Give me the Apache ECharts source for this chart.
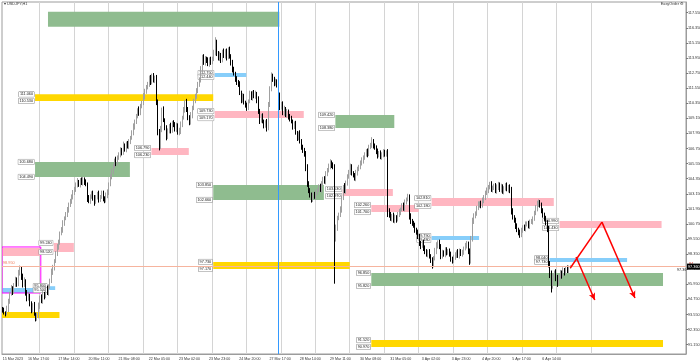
<!DOCTYPE html>
<html><head><meta charset="utf-8">
<script src="https://cdn.jsdelivr.net/npm/echarts@6/dist/echarts.min.js"></script>
<style>html,body{margin:0;padding:0;background:#fff}#c{width:700px;height:362px}</style>
</head><body><div id="c"></div>
<script>
// ---------------- DATA ----------------
const symbolName = 'USDJPY,H1';
const totalSlots = 476;          // bars shown on the time axis (incl. empty shift area)
const firstOpen = 94.0;
const closes = [
93.9,93.7,93.6,94.0,94.6,95.2,95.6,95.4,95.9,96.3,
96.0,96.8,97.2,96.6,95.9,96.2,95.3,94.8,95.1,94.4,
93.9,94.3,93.6,93.2,93.5,94.2,94.9,94.6,95.2,95.0,
95.6,95.3,95.8,96.2,96.9,97.3,97.8,98.4,98.9,99.3,
100.0,100.3,100.8,101.2,101.5,101.9,102.3,102.5,102.9,103.3,
103.5,103.8,104.1,103.9,104.2,104.0,104.3,104.1,103.9,102.8,
102.6,102.9,103.2,102.8,102.5,102.9,103.1,102.7,102.9,103.2,
102.8,102.6,103.0,103.3,103.9,104.5,104.9,105.3,105.8,105.6,
106.0,106.3,106.6,106.4,107.0,106.7,107.1,106.9,107.3,107.6,
108.0,108.5,108.9,109.3,109.8,109.6,110.1,110.4,110.9,111.3,
111.6,111.9,112.3,112.0,112.5,112.2,112.4,110.5,108.0,106.9,
108.3,109.8,109.0,108.4,107.7,108.1,108.5,108.2,108.8,108.6,
108.3,108.6,108.0,108.1,108.7,109.2,109.8,110.4,109.9,109.2,
108.8,109.4,110.0,110.5,110.9,111.4,111.8,112.2,113.0,114.0,
113.6,113.9,113.7,113.5,113.8,113.6,113.9,114.4,115.2,114.3,
113.9,114.2,113.8,114.4,114.1,114.5,114.0,114.6,114.1,113.6,
113.0,112.7,112.3,112.0,111.8,111.2,110.6,110.9,110.4,110.2,
110.0,110.5,111.1,110.8,111.2,110.9,111.1,110.6,109.7,109.0,
109.3,108.9,108.6,108.8,108.4,110.2,111.5,112.5,112.3,111.9,
112.1,111.8,111.0,110.0,110.3,109.6,109.9,109.4,109.7,109.3,
109.1,108.9,108.5,108.7,108.0,107.6,107.9,107.3,106.9,106.6,
106.3,105.2,104.0,103.4,103.0,102.7,103.1,102.9,103.3,103.45,
103.7,103.5,104.0,104.3,104.1,104.8,105.0,105.3,105.6,105.4,
105.3,99.6,100.4,101.2,101.5,101.9,102.8,103.7,103.4,104.0,
104.5,104.9,105.3,104.8,104.6,104.4,104.8,105.1,105.3,105.6,
105.8,106.0,106.3,106.5,106.3,106.9,107.0,107.3,107.0,106.8,
106.5,106.2,106.4,106.1,106.2,106.5,106.3,106.4,101.8,101.5,
101.2,101.4,101.0,101.3,101.1,101.5,101.7,101.9,102.2,102.0,
102.5,102.7,102.9,101.3,101.0,100.8,100.6,100.3,100.1,99.7,
99.2,99.0,99.3,98.8,98.6,98.3,98.5,98.2,97.9,97.5,
98.0,98.6,99.0,99.3,98.9,98.2,98.5,98.3,98.7,98.5,
98.6,98.3,98.0,97.8,98.1,98.3,98.5,98.2,98.6,98.4,
98.5,98.8,99.0,99.2,98.6,97.8,99.5,101.0,101.4,101.6,
102.0,102.3,102.4,102.2,102.6,102.9,103.2,103.4,103.7,103.9,
103.5,103.6,103.8,103.4,103.6,103.9,103.5,103.7,103.3,103.6,
103.8,103.5,103.7,103.4,101.8,101.3,101.0,100.6,100.3,100.1,
99.9,100.2,100.5,100.4,100.7,100.8,100.6,100.9,100.9,101.2,
101.6,102.0,102.3,102.5,102.2,101.8,101.5,101.2,100.8,100.3,
97.6,96.8,95.9,96.6,96.9,96.5,96.1,96.6,96.9,96.7,
97.1,96.9,97.2,97.0,97.3,97.36
];
const upperWicks = [
.15,.2,.1,.25,.2,.15,.3,.2,.15,.25, .2,.3,.25,.15,.2,.3,.15,.2,.25,.1,
.2,.15,.25,.1,.2,.3,.15,.25,.2,.15, .2,.25,.15,.2,.3,.2,.15,.2,.25,.2,
.15,.2,.25,.15,.2,.2,.15,.25,.2,.15, .2,.25,.3,.15,.2,.25,.2,.15,.2,.15,
.25,.2,.15,.2,.25,.15,.2,.3,.15,.2, .2,.15,.25,.2,.15,.2,.25,.2,.15,.3,
.2,.15,.25,.2,.3,.15,.2,.25,.2,.15, .2,.25,.15,.2,.15,.3,.2,.15,.25,.2,
.2,.15,.25,.3,.2,.25,.15,.2,.15,.3, .25,.2,.3,.15,.2,.25,.2,.3,.15,.2,
.25,.2,.15,.3,.2,.15,.25,.2,.3,.15, .2,.25,.15,.2,.2,.15,.25,.2,.3,.2,
.25,.2,.15,.3,.2,.25,.15,.2,.4,.2, .2,.25,.15,.2,.3,.15,.2,.2,.25,.15,
.2,.25,.15,.2,.2,.3,.15,.25,.2,.15, .2,.15,.25,.2,.15,.2,.25,.15,.3,.2,
.2,.25,.15,.2,.3,.25,.2,.3,.2,.15, .2,.15,.25,.2,.15,.2,.25,.15,.2,.15,
.2,.25,.15,.2,.25,.15,.2,.3,.2,.15, .2,.25,.3,.15,.2,.25,.15,.2,.2,.15,
.2,.25,.15,.2,.25,.15,.2,.25,.3,.2, .25,.2,.3,.2,.15,.25,.2,.15,.3,.2,
.2,.15,.25,.2,.15,.2,.25,.2,.15,.2, .25,.2,.15,.2,.25,.15,.2,.35,.2,.15,
.2,.25,.15,.2,.25,.2,.15,.2,.3,.2, .2,.15,.25,.2,.15,.2,.25,.15,.2,.25,
.2,.15,.25,.2,.3,.15,.2,.25,.15,.2, .25,.2,.15,.2,.25,.15,.2,.25,.15,.2,
.2,.25,.3,.15,.2,.25,.2,.15,.2,.2, .15,.2,.25,.15,.2,.2,.15,.25,.2,.15,
.2,.15,.25,.2,.15,.2,.3,.25,.2,.15, .2,.25,.15,.2,.25,.15,.2,.25,.15,.2,
.25,.2,.15,.2,.3,.2,.15,.25,.2,.15, .2,.25,.15,.2,.3,.2,.15,.25,.2,.15,
.2,.25,.15,.2,.25,.15,.2,.2,.25,.15, .2,.25,.3,.2,.15,.25,.2,.15,.2,.25,
.3,.2,.25,.2,.15,.25,.2,.15,.2,.15, .2,.15,.2,.25,.15,.1
];
const lowerWicks = [
.2,.15,.2,.1,.25,.2,.15,.3,.2,.15, .25,.2,.15,.3,.2,.15,.25,.2,.15,.2,
.25,.2,.15,.2,.15,.25,.2,.15,.2,.25, .15,.2,.25,.2,.15,.2,.25,.15,.2,.2,
.2,.15,.25,.2,.15,.2,.25,.2,.15,.2, .25,.2,.15,.2,.25,.15,.2,.25,.15,.3,
.2,.25,.15,.2,.3,.15,.2,.25,.2,.15, .25,.2,.15,.2,.25,.15,.2,.2,.15,.25,
.2,.15,.25,.2,.15,.2,.25,.15,.2,.2, .15,.2,.25,.2,.15,.25,.2,.15,.2,.25,
.2,.15,.25,.2,.15,.2,.25,.3,.2,.3, .2,.25,.15,.2,.3,.2,.15,.25,.2,.15,
.2,.25,.15,.2,.2,.25,.15,.2,.25,.2, .2,.15,.25,.2,.15,.2,.25,.15,.2,.2,
.2,.25,.15,.2,.25,.2,.15,.2,.25,.2, .15,.2,.25,.2,.15,.2,.25,.15,.2,.25,
.2,.15,.25,.2,.15,.2,.25,.2,.15,.2, .25,.2,.15,.2,.25,.15,.2,.25,.2,.3,
.2,.15,.25,.2,.3,.2,.15,.2,.25,.2, .15,.2,.25,.2,.15,.2,.25,.15,.2,.25,
.2,.15,.25,.2,.15,.25,.2,.15,.25,.2, .2,.25,.3,.2,.15,.25,.2,.15,.2,.25,
.15,.2,.25,.2,.15,.2,.25,.15,.2,.2, .2,3.6,.25,.2,.15,.2,.25,.15,.2,.25,
.2,.15,.25,.2,.15,.2,.25,.2,.15,.2, .2,.25,.15,.2,.25,.15,.2,.2,.25,.15,
.2,.25,.15,.2,.25,.15,.2,.2,.5,.25, .2,.25,.15,.2,.25,.15,.2,.25,.15,.2,
.25,.2,.15,.2,.25,.2,.15,.25,.2,.15, .2,.25,.15,.2,.25,.15,.2,.2,.25,.3,
.2,.15,.25,.2,.15,.25,.2,.15,.2,.25, .2,.15,.25,.2,.15,.2,.25,.15,.2,.2,
.25,.2,.15,.2,.25,.3,.2,.15,.25,.2, .2,.15,.25,.2,.15,.2,.25,.15,.2,.2,
.2,.25,.15,.2,.25,.15,.2,.25,.15,.2, .2,.15,.25,.2,.3,.2,.15,.25,.2,.25,
.25,.2,.15,.2,.25,.15,.2,.25,.15,.2, .2,.15,.25,.2,.15,.2,.25,.2,.15,.2,
.3,.35,.6,.3,.25,.3,.35,.2,.25,.3, .2,.25,.2,.15,.2,.1
];
// time axis labels (bar index -> text)
const xTickIndex = [0,25,46,67,88,109,130,151,172,193,214,235,256,277,298,319,340,361,382];
const xTickLabels = ['15 Mar 2023','16 Mar 17:00','17 Mar 14:00','20 Mar 11:00','21 Mar 08:00','22 Mar 05:00',
  '23 Mar 02:00','23 Mar 23:00','24 Mar 20:00','27 Mar 17:00','28 Mar 14:00','29 Mar 11:00','30 Mar 08:00',
  '31 Mar 05:00','3 Apr 02:00','3 Apr 23:00','4 Apr 20:00','5 Apr 17:00','6 Apr 14:00'];
// vertical separators (bar index where a separator is drawn)
const separatorIndex = [26,50,74,98,122,146,170,194,218,242,266,290,314,338,362,386,410];
const markedBarIndex = 192;      // blue vertical line
// price scale labels
const yTickValues = [91.15,92.35,93.55,94.75,95.95,97.15,98.35,99.55,100.75,101.95,103.15,104.35,
  105.55,106.75,107.95,109.15,110.35,111.55,112.75,113.95,115.15,116.35,117.55];
// zones: start bar, end bar, upper price, lower price, kind
const zoneStart = [32, 23,148,148,104, 23,232,147,237,257,299,299,257,257,147,388,381,  0, 36,  0, 32,  0,  0];
const zoneEnd   = [192,146,169,209,129, 88,272,223,271,289,383,331,459,459,241,458,434, 26, 49, 26, 36, 39, 26];
const zoneHigh  = [117.63,111.06,112.75,109.73,106.79,105.68,109.42,103.85,103.53,102.26,102.81,99.79,96.85,91.52,97.73,100.99,98.04,98.84,99.24,95.66,95.80,93.75,98.92];
const zoneLow   = [116.44,110.53,112.44,109.17,106.23,104.49,108.38,102.66,102.97,101.70,102.18,99.48,95.82,90.97,97.17,100.43,97.73,98.20,98.52,95.26,95.50,93.27,95.26];
const zoneKind  = ['demand','target','entry','supply','supply','demand','demand','demand','supply','supply','supply','entry','demand','target','target','supply','entry','supply','supply','entry','entry','target','frame'];
const zoneLabeled = [0,1,1,1,1,1,1,1,1,1,1,1,1,1,1,1,1,0,1,0,1,0,0];
// projected path arrows: [barIndex, price] pairs
const arrowSegments = [
  [[395,97.25],[417,100.90]],
  [[417,100.90],[440,94.86]],
  [[399,98.12],[412,94.70]]
];
const arrowHasHead = [0,1,1];

// ---------------- BUILD ----------------
const kindColor = {demand:'#8fbc8f', supply:'#ffb6c1', target:'#ffd700', entry:'#87cefa'};
const FONT = 'Liberation Sans Narrow, Liberation Sans, sans-serif';
const FS = 3.8;      // price / zone labels
const FSX = 3.6;     // time labels
const categories = Array.from({length: totalSlots}, (_, i) => String(i));
const ohlc = closes.map((c, i) => {
  const o = i === 0 ? firstOpen : closes[i - 1];
  return [o, c, Math.min(o, c) - lowerWicks[i], Math.max(o, c) + upperWicks[i]];
});
const tickMap = {}; xTickIndex.forEach((k, j) => tickMap[k] = xTickLabels[j]);
const sepSet = new Set(separatorIndex);
const zoneData = zoneStart.map((s, i) => [s, zoneEnd[i], zoneHigh[i], zoneLow[i], i]);
const lastClose = closes[closes.length - 1];

const chart = echarts.init(document.getElementById('c'), null, {renderer: 'canvas'});
chart.setOption({
  animation: false,
  backgroundColor: '#ffffff',
  grid: {left: 2, right: 14, top: 2, bottom: 8, containLabel: false, outerBoundsMode: 'none',
         show: true, borderColor: '#9c9c9c', borderWidth: 1, backgroundColor: '#fff'},
  xAxis: {
    type: 'category', data: categories, boundaryGap: true,
    axisLine: {lineStyle: {color: '#9c9c9c'}},
    axisTick: {show: false},
    axisLabel: {
      interval: (i) => tickMap[i] !== undefined, hideOverlap: false, showMinLabel: true,
      formatter: (v, i) => tickMap[i] || '',
      fontSize: FSX, color: '#333', margin: 3, fontFamily: FONT, alignMinLabel: 'left'
    },
    splitLine: {show: true, interval: (i) => sepSet.has(i), lineStyle: {color: '#d4d4d4', width: 1}}
  },
  yAxis: {
    type: 'value', position: 'right', min: 90.41, max: 118.40, scale: true,
    axisLine: {show: true, lineStyle: {color: '#9c9c9c'}},
    axisTick: {show: true, length: 2, customValues: yTickValues, lineStyle: {color: '#777'}},
    axisLabel: {customValues: yTickValues, formatter: (v) => v.toFixed(3), fontSize: FS, color: '#333', margin: 2, fontFamily: FONT},
    splitLine: {show: false}
  },
  graphic: [
    {type: 'text', left: 4, top: 2, style: {text: '\u25BE ' + symbolName, fontSize: FS, fill: '#333', fontFamily: FONT}},
    {type: 'text', right: 16, top: 2, style: {text: 'EasyOrder \u2699', fontSize: FS, fill: '#333', fontFamily: FONT}},
    {type: 'text', left: 3, top: 261, style: {text: '98.950', fontSize: FS, fill: '#f08060', fontFamily: FONT}},
    {type: 'text', left: 689, top: 262, style: {text: '84', fontSize: FS, fill: '#e03020', fontFamily: FONT}},
    {type: 'text', left: 677, top: 268, style: {text: lastClose.toFixed(2), fontSize: FS, fill: '#222', fontFamily: FONT}}
  ],
  series: [
    {
      type: 'custom', name: 'zones', z: 1, clip: true,
      encode: {x: [0, 1], y: [2, 3]},
      data: zoneData,
      renderItem: (params, api) => {
        const i = api.value(4);
        const w = api.size([1, 0])[0];
        const p1 = api.coord([api.value(0), api.value(2)]);
        const p2 = api.coord([api.value(1), api.value(3)]);
        const x1 = p1[0] - w / 2, x2 = p2[0] + w / 2;
        const kind = zoneKind[i];
        const children = [];
        if (kind === 'frame') {
          children.push({type: 'rect', shape: {x: x1, y: p1[1], width: x2 - x1, height: p2[1] - p1[1]},
            style: {fill: 'none', stroke: '#ff00ff', lineWidth: 1}});
        } else {
          children.push({type: 'rect', shape: {x: x1, y: p1[1], width: x2 - x1, height: p2[1] - p1[1]},
            style: {fill: kindColor[kind]}});
        }
        if (zoneLabeled[i]) {
          [[zoneHigh[i], p1[1]], [zoneLow[i], p2[1]]].forEach(([val, yy]) => {
            children.push({type: 'text', z2: 10, style: {
              text: val.toFixed(3), x: x1 - 1, y: yy, align: 'right', verticalAlign: 'middle',
              fontSize: FS, fontFamily: FONT, fill: '#222', backgroundColor: '#fff',
              borderColor: '#8a8a8a', borderWidth: 0.5, padding: [0.5, 1]
            }});
          });
        }
        return {type: 'group', children};
      }
    },
    {
      type: 'candlestick', name: symbolName, z: 3,
      data: ohlc, barWidth: 1,
      itemStyle: {color: '#c4c4c4', color0: '#000000', borderColor: '#a0a0a0', borderColor0: '#000000', borderWidth: 1},
      markLine: {
        silent: true, symbol: ['none', 'none'], animation: false,
        data: [
          {yAxis: lastClose, lineStyle: {color: '#f6b49e', width: 1, type: 'solid'},
           label: {show: true, position: 'end', distance: 1, formatter: lastClose.toFixed(3), fontSize: FS,
                   color: '#fff', backgroundColor: '#000', padding: [1, 1], fontFamily: FONT}},
          {xAxis: markedBarIndex, lineStyle: {color: '#3399ff', width: 1, type: 'solid', opacity: 1}, label: {show: false}},
          ...arrowSegments.map((seg, k) => [
            {coord: seg[0], symbol: 'none', lineStyle: {color: '#ff0000', width: 1.5, type: 'solid'}, label: {show: false}},
            {coord: seg[1], symbol: arrowHasHead[k] ? 'arrow' : 'none', symbolSize: [5, 7]}
          ])
        ]
      }
    }
  ]
});
</script>
</body></html>
